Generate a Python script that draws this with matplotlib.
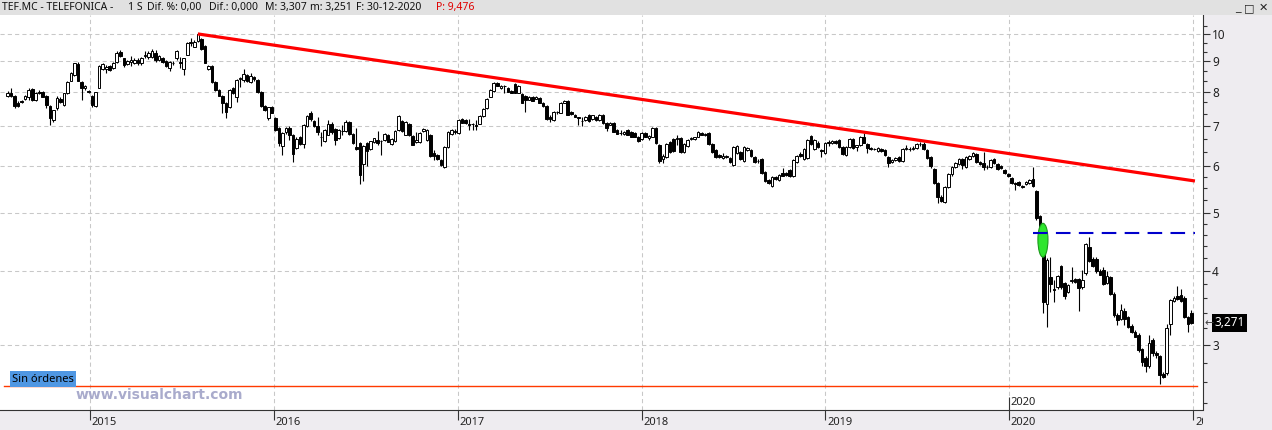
import matplotlib
matplotlib.use('Agg')
import matplotlib.pyplot as plt
import matplotlib.dates as mdates
from matplotlib.patches import Ellipse
from matplotlib.ticker import NullFormatter
import numpy as np
import pandas as pd

plt.rcParams['font.family'] = ['Noto Sans', 'DejaVu Sans']

# velas semanales (open, high, low, close), por año
w2014 = [(7.86,8.03,7.84,7.97),(7.95,8.10,7.82,7.86),(7.86,7.90,7.51,7.57),(7.66,7.70,7.55,7.57),
         (7.70,7.75,7.65,7.68),(7.78,7.88,7.75,7.86),(7.84,8.10,7.75,8.05),(8.08,8.10,7.70,7.75),
         (7.75,8.00,7.72,7.96),(8.00,8.05,7.92,7.97),(8.00,8.02,7.82,7.84),(7.87,7.90,7.51,7.60),
         (7.57,7.60,7.04,7.22),(7.17,7.45,7.12,7.45),(7.51,7.85,7.45,7.81),(7.78,7.82,7.66,7.69),
         (7.60,7.96,7.58,7.96),(7.96,8.32,7.94,8.30),(8.34,8.62,8.32,8.60),(8.53,8.95,8.50,8.93),
         (8.90,8.97,8.32,8.34),(8.30,8.32,7.75,8.11),(8.12,8.20,8.05,8.18),(8.03,8.06,7.95,7.98)]
w2015 = [(7.87,7.90,7.54,7.60),(7.57,8.00,7.55,7.99),(8.12,8.85,8.10,8.83),(8.73,8.93,8.70,8.90),
         (8.73,8.85,8.60,8.80),(8.83,8.86,8.67,8.70),(8.76,8.98,8.73,8.93),(8.97,9.35,8.95,9.30),
         (9.33,9.40,9.15,9.18),(9.10,9.12,8.80,8.86),(8.90,9.03,8.85,9.00),(8.97,9.18,8.83,9.03),
         (8.93,9.10,8.90,9.03),(9.03,9.10,8.88,8.93),(8.93,9.15,8.85,9.10),(9.18,9.35,9.10,9.22),
         (9.15,9.35,9.08,9.30),(9.15,9.45,9.10,9.35),(9.30,9.40,8.98,9.03),(9.05,9.22,9.00,9.18),
         (9.10,9.15,8.93,8.97),(9.00,9.03,8.80,8.83),(8.76,9.00,8.66,8.98),(8.93,9.00,8.86,8.92),
         (9.10,9.40,9.05,9.35),(8.98,9.15,8.76,8.93),(8.73,9.12,8.53,9.10),(9.22,9.70,9.20,9.66),
         (9.64,9.85,9.55,9.68),(9.52,9.75,9.50,9.70),(9.73,10.00,9.70,9.98),(9.80,9.85,9.40,9.44),
         (9.55,9.58,8.93,8.95),(8.73,8.86,8.70,8.84),(8.83,8.86,8.27,8.30),(8.30,8.32,8.03,8.05),
         (8.05,8.08,7.85,7.87),(7.87,7.90,7.36,7.66),(7.66,7.68,7.22,7.40),(7.54,8.07,7.50,8.05),
         (8.11,8.15,7.94,7.97),(7.84,8.40,7.69,8.37),(8.40,8.47,8.15,8.44),(8.37,8.72,8.30,8.56),
         (8.53,8.56,8.30,8.32),(8.30,8.60,8.28,8.50),(8.47,8.50,8.35,8.40),(8.37,8.40,7.97,7.99),
         (8.00,8.02,7.55,7.57),(7.57,7.60,7.42,7.46),(7.22,7.55,7.17,7.54),(7.54,7.56,7.35,7.37)]
w2016 = [(7.23,7.25,6.88,6.90),(6.95,6.97,6.47,6.56),(6.47,6.85,6.26,6.82),(6.83,6.97,6.80,6.95),
         (6.95,6.99,6.63,6.77),(6.77,6.79,6.10,6.28),(6.44,6.70,6.40,6.66),(6.70,6.73,6.50,6.53),
         (6.53,7.06,6.43,7.04),(6.99,7.30,6.98,7.28),(7.37,7.43,7.15,7.19),(7.15,7.17,6.98,6.99),
         (6.99,7.25,6.77,6.85),(6.72,6.85,6.47,6.72),(6.60,6.92,6.58,6.90),(6.77,7.17,6.75,7.07),
         (7.07,7.10,6.80,6.85),(6.92,6.95,6.51,6.63),(6.68,6.92,6.66,6.90),(6.88,7.04,6.77,6.87),
         (6.87,7.17,6.85,7.12),(7.12,7.14,6.77,6.79),(6.79,6.81,6.53,6.55),(6.46,6.95,6.38,6.41),
         (6.55,6.57,5.60,5.80),(6.04,6.50,5.66,6.48),(6.56,6.58,5.99,6.36),(6.41,6.62,6.38,6.60),
         (6.58,6.69,6.55,6.68),(6.63,6.87,6.51,6.56),(6.60,6.63,6.26,6.61),(6.63,6.82,6.60,6.79),
         (6.75,6.78,6.58,6.59),(6.53,6.68,6.50,6.66),(6.60,6.90,6.58,6.87),(6.90,7.30,6.88,7.28),
         (7.15,7.18,6.85,6.87),(6.77,7.14,6.75,7.12),(7.07,7.09,6.73,6.75),(6.73,6.75,6.50,6.51),
         (6.57,6.85,6.55,6.63),(6.58,6.83,6.56,6.82),(6.87,6.95,6.85,6.92),(6.63,6.92,6.60,6.90),
         (6.77,6.80,6.22,6.24),(6.30,6.38,6.14,6.23),(6.26,6.28,6.14,6.16),(6.14,6.16,5.99,6.01),
         (5.97,6.48,5.95,6.46),(6.46,6.87,6.44,6.85),(6.79,6.92,6.76,6.90),(6.88,6.92,6.80,6.84)]
w2017 = [(6.82,7.19,6.80,7.17),(7.19,7.22,7.08,7.09),(7.17,7.19,7.07,7.09),(7.06,7.19,6.90,7.03),
         (7.05,7.09,6.90,7.05),(7.04,7.17,6.90,7.01),(7.07,7.30,7.05,7.28),(7.28,7.50,7.26,7.48),
         (7.51,7.80,7.49,7.78),(7.84,8.07,7.82,8.05),(8.02,8.30,8.00,8.27),(8.27,8.30,8.16,8.18),
         (8.11,8.20,8.08,8.18),(8.18,8.21,7.97,8.17),(8.11,8.14,7.98,8.00),(8.02,8.04,7.95,7.97),
         (8.24,8.27,7.96,7.97),(7.97,8.20,7.95,8.18),(7.93,7.95,7.64,7.66),(7.87,7.90,7.39,7.75),
         (7.75,7.87,7.73,7.84),(7.84,7.87,7.70,7.72),(7.78,7.85,7.76,7.84),(7.81,7.84,7.64,7.66),
         (7.66,7.69,7.55,7.57),(7.57,7.59,7.17,7.20),(7.25,7.31,7.12,7.20),(7.17,7.42,7.15,7.39),
         (7.38,7.42,7.33,7.40),(7.37,7.67,7.35,7.66),(7.66,7.73,7.64,7.72),(7.72,7.75,7.30,7.31),
         (7.39,7.42,7.32,7.34),(7.31,7.33,7.24,7.25),(7.24,7.26,7.04,7.22),(7.14,7.25,7.00,7.14),
         (7.17,7.27,7.15,7.25),(7.31,7.33,7.12,7.14),(7.20,7.32,7.18,7.31),(7.25,7.27,7.15,7.17),
         (7.17,7.33,7.15,7.31),(7.31,7.33,7.07,7.09),(7.09,7.12,6.87,6.96),(7.04,7.10,7.02,7.09),
         (7.09,7.11,6.83,6.85),(6.90,6.92,6.78,6.80),(6.82,6.90,6.75,6.81),(6.79,6.86,6.77,6.85),
         (6.90,6.93,6.76,6.77),(6.85,6.87,6.70,6.72),(6.82,6.84,6.70,6.72),(6.71,6.73,6.59,6.61)]
w2018 = [(6.66,6.84,6.64,6.82),(6.82,6.85,6.70,6.72),(6.69,6.76,6.64,6.74),(6.72,6.97,6.70,6.95),
         (6.95,6.97,6.53,6.55),(6.51,6.53,6.07,6.12),(6.16,6.28,6.07,6.24),(6.21,6.55,6.19,6.53),
         (6.58,6.60,6.31,6.33),(6.66,6.68,6.34,6.36),(6.66,6.77,6.51,6.68),(6.68,6.70,6.31,6.33),
         (6.33,6.56,6.31,6.53),(6.48,6.65,6.46,6.63),(6.66,6.70,6.64,6.68),(6.66,6.72,6.64,6.71),
         (6.72,6.87,6.70,6.85),(6.82,6.85,6.75,6.77),(6.75,6.82,6.73,6.80),(6.82,6.85,6.51,6.53),
         (6.53,6.55,6.31,6.33),(6.38,6.40,6.19,6.21),(6.26,6.28,6.19,6.21),(6.19,6.31,6.17,6.24),
         (6.21,6.26,6.19,6.24),(6.19,6.21,6.07,6.09),(6.03,6.48,6.00,6.46),(6.31,6.51,6.29,6.48),
         (6.33,6.36,6.14,6.16),(6.12,6.48,6.10,6.46),(6.38,6.46,6.36,6.43),(6.38,6.40,6.21,6.23),
         (6.21,6.23,6.07,6.09),(6.12,6.16,6.07,6.12),(6.16,6.18,5.82,5.84),(5.87,5.89,5.64,5.66),
         (5.68,5.70,5.60,5.62),(5.56,5.76,5.54,5.74),(5.74,5.76,5.68,5.70),(5.68,5.82,5.66,5.80),
         (5.84,5.95,5.76,5.78),(5.84,5.87,5.78,5.80),(5.91,5.93,5.74,5.76),(5.76,6.16,5.74,6.14),
         (6.09,6.26,6.07,6.24),(6.28,6.34,6.22,6.24),(6.16,6.43,6.14,6.41),(6.19,6.66,6.17,6.63),
         (6.74,6.77,6.51,6.53),(6.41,6.66,6.38,6.63),(6.56,6.60,6.44,6.46),(6.38,6.40,6.21,6.36),
         (6.31,6.58,6.29,6.56)]
w2019 = [(6.57,6.63,6.48,6.56),(6.56,6.63,6.54,6.61),(6.61,6.63,6.54,6.56),(6.63,6.66,6.44,6.46),
         (6.46,6.48,6.26,6.28),(6.26,6.48,6.24,6.46),(6.46,6.68,6.44,6.66),(6.66,6.68,6.41,6.43),
         (6.46,6.51,6.36,6.51),(6.51,6.74,6.49,6.71),(6.72,6.82,6.55,6.56),(6.53,6.55,6.31,6.43),
         (6.43,6.46,6.39,6.41),(6.41,6.44,6.37,6.41),(6.36,6.45,6.34,6.43),(6.41,6.43,6.34,6.36),
         (6.38,6.40,6.24,6.26),(6.21,6.23,5.97,6.07),(6.09,6.17,6.07,6.14),(6.14,6.21,6.12,6.19),
         (6.21,6.23,6.10,6.12),(6.12,6.43,6.10,6.41),(6.41,6.51,6.39,6.43),(6.41,6.46,6.36,6.41),
         (6.41,6.48,6.38,6.43),(6.43,6.56,6.41,6.53),(6.53,6.58,6.48,6.53),(6.53,6.58,6.39,6.41),
         (6.38,6.40,6.17,6.19),(6.21,6.24,5.96,5.99),(5.93,5.95,5.60,5.62),(5.62,5.64,5.20,5.33),
         (5.33,5.36,5.22,5.24),(5.22,5.56,5.20,5.53),(5.53,5.84,5.51,5.82),(5.82,6.00,5.78,5.98),
         (5.98,6.09,5.96,6.07),(6.05,6.19,6.03,6.16),(6.16,6.19,5.93,6.03),(5.98,6.24,5.96,6.21),
         (6.16,6.26,6.14,6.24),(6.24,6.33,6.22,6.31),(6.28,6.31,6.07,6.09),(6.09,6.12,6.03,6.05),
         (6.07,6.33,5.91,5.98),(5.98,6.02,5.94,5.98),(5.98,6.16,5.96,6.14),(6.16,6.19,6.05,6.07),
         (6.05,6.07,5.91,5.93),(5.99,6.01,5.93,5.96),(5.91,5.93,5.82,5.84),(5.82,5.84,5.74,5.76)]
w2020 = [(5.72,5.74,5.60,5.62),(5.62,5.64,5.47,5.60),(5.64,5.66,5.56,5.58),(5.52,5.58,5.50,5.56),
         (5.60,5.66,5.58,5.64),(5.62,5.70,5.60,5.68),(5.70,5.98,5.54,5.56),(5.45,5.47,4.87,4.90),
         (4.95,4.97,4.55,4.60),(4.36,4.60,3.39,3.54),(3.52,4.20,3.22,4.17),(3.90,4.22,3.69,3.80),
         (3.72,3.86,3.54,3.71),(3.75,3.93,3.73,3.92),(4.07,4.09,3.73,3.75),(3.81,3.83,3.58,3.62),
         (3.69,3.80,3.67,3.78),(3.84,4.05,3.82,3.86),(3.87,3.89,3.82,3.83),(3.87,3.89,3.42,3.74),
         (3.75,4.01,3.73,3.86),(3.96,4.46,3.94,4.43),(4.38,4.56,4.13,4.15),(4.19,4.21,4.06,4.07),
         (4.19,4.21,3.97,3.99),(4.00,4.02,3.93,3.94),(4.01,4.05,3.78,3.80),(3.82,4.00,3.80,3.92),
         (3.90,3.92,3.64,3.66),(3.66,3.68,3.35,3.37),(3.37,3.39,3.24,3.31),(3.32,3.51,3.30,3.43),
         (3.42,3.46,3.24,3.32),(3.34,3.36,3.20,3.22),(3.23,3.25,3.14,3.15),(3.15,3.18,3.09,3.10),
         (3.12,3.14,2.92,2.94),(2.95,2.97,2.77,2.81),(2.85,2.87,2.70,2.77),(2.77,3.12,2.75,3.02),
         (3.06,3.08,2.88,2.91),(2.91,2.93,2.85,2.89),(2.87,2.89,2.58,2.67),(2.68,2.70,2.64,2.65),
         (2.69,3.26,2.67,3.20),(3.26,3.59,3.12,3.57),(3.56,3.62,3.54,3.60),(3.62,3.77,3.57,3.59),
         (3.64,3.72,3.55,3.56),(3.60,3.62,3.33,3.35),(3.34,3.36,3.15,3.25),(3.40,3.43,3.25,3.27)]
last_week = '2020-12-28'

years = [2015, 2016, 2017, 2018, 2019, 2020, 2021]
y_major = [3, 4, 5, 6, 7, 8, 9, 10]
y_minor = [2.4, 2.6, 2.8, 3.2, 3.4, 3.6, 3.8, 4.2, 4.4, 4.6, 4.8, 5.25, 5.5, 5.75,
           6.33, 6.67, 7.33, 7.67, 8.33, 8.67, 9.33, 9.67, 10.33]

trend_dates = ['2015-08-03', '2021-01-04']
trend_vals = [10.0, 5.66]
stop_dates = ['2020-02-17', '2021-01-05']
stop_val = 4.63
floor_dates = ['2014-07-14', '2021-01-08']
floor_val = 2.56
signal_date = '2020-03-08'
signal_val = 4.51
last_val = 3.271
last_txt = '3,271'

header = [('TEF.MC - TELEFONICA -', 2), ('1 S', 128), ('Dif. %: 0,00', 147), ('Dif.: 0,000', 209),
          ('M: 3,307', 265), ('m: 3,251', 310), ('F: 30-12-2020', 356)]
header_p = ('P: 9,476', 436)

# ---------------------------------------------------------------
W, H = 1272, 430
fig = plt.figure(figsize=(W / 100, H / 100), dpi=100)
fig.patch.set_facecolor('#eeecf0')

ohlc = np.array(w2014 + w2015 + w2016 + w2017 + w2018 + w2019 + w2020)
o, h, l, c = ohlc.T
fechas = pd.date_range(end=last_week, periods=len(ohlc), freq='7D')
x = mdates.date2num(fechas)

def d(s):
    return mdates.date2num(pd.Timestamp(s))

ax = fig.add_axes([0, 20 / H, 1202.5 / W, 395 / H])
ax.set_facecolor('white')
ax.set_yscale('log')
ax.set_xlim(d('2014-07-06'), d('2021-01-19'))
ax.set_ylim(2.333, 10.76)

grid_kw = dict(color='#c8c8c8', lw=0.75, ls=(0, (4, 3)), zorder=0)
for v in y_major:
    ax.axhline(v, **grid_kw)
for yr in years:
    ax.axvline(d(f'{yr}-01-01'), **grid_kw)

# velas
up = c >= o
lo = np.minimum(o, c)
hi = np.maximum(o, c)
ax.vlines(x, l, h, color='black', lw=0.8, zorder=2)
ax.bar(x[up], (hi - lo)[up], bottom=lo[up], width=5.2, facecolor='white',
       edgecolor='black', lw=0.7, zorder=3)
ax.bar(x[~up], (hi - lo)[~up], bottom=lo[~up], width=5.2, facecolor='black',
       edgecolor='black', lw=0.7, zorder=3)

# directriz bajista
ax.plot([d(t) for t in trend_dates], trend_vals, color='#ff0000', lw=2.3, zorder=4,
        solid_capstyle='butt')
ax.plot([d(t) for t in floor_dates], [floor_val] * 2, color='#ff3a00', lw=1.0, zorder=4)

ax.add_patch(Ellipse((d(signal_date), signal_val), width=20, height=0.59,
                     facecolor='#2ee62e', edgecolor='#1b9b1b', lw=0.8, zorder=5))
ax.plot([d(t) for t in stop_dates], [stop_val] * 2, color='#0000cc', lw=1.5,
        ls=(0, (7, 4)), zorder=6)

# eje derecho
ax.yaxis.tick_right()
ax.set_yticks(y_major)
ax.set_yticklabels([str(v) for v in y_major])
ax.set_yticks(y_minor, minor=True)
ax.yaxis.set_minor_formatter(NullFormatter())
ax.tick_params(axis='y', which='major', length=5, width=0.8, color='#333333',
               labelsize=8.5, labelcolor='#222222', pad=2)
ax.tick_params(axis='y', which='minor', length=3, width=0.8, color='#333333')
ax.set_xticks([])
for s in ['left', 'top', 'bottom']:
    ax.spines[s].set_visible(False)
ax.spines['right'].set_color('#333333')

# marca 2020 dentro del grafico
xt = ax.get_xaxis_transform()
ax.vlines(d('2020-01-01'), 0, 0.033, transform=xt, color='#333333', lw=0.8)
ax.text(d('2020-01-04'), 0.006, '2020', transform=xt, fontsize=8, color='#222222',
        ha='left', va='bottom')

# precio actual
ax.annotate(last_txt, xy=(1, last_val), xycoords=('axes fraction', 'data'),
            xytext=(12, 0), textcoords='offset pixels', ha='left', va='center',
            color='white', fontsize=8.5, annotation_clip=False,
            bbox=dict(boxstyle='square,pad=0.2', facecolor='black', edgecolor='none'))
ax.annotate('←', xy=(1, last_val), xycoords=('axes fraction', 'data'),
            xytext=(2, 0), textcoords='offset pixels', ha='left', va='center',
            color='#444444', fontsize=8, family='DejaVu Sans', annotation_clip=False)

# eje de fechas
ax2 = fig.add_axes([0, 0, 1202.5 / W, 20 / H])
ax2.set_facecolor('#eeecf0')
ax2.set_xlim(ax.get_xlim())
ax2.set_ylim(0, 1)
ax2.set_xticks([])
ax2.set_yticks([])
for s in ['left', 'right', 'bottom']:
    ax2.spines[s].set_visible(False)
ax2.spines['top'].set_color('#333333')
for yr in years:
    ax2.vlines(d(f'{yr}-01-01'), 0.5, 1.0, color='#333333', lw=0.8)
    ax2.text(d(f'{yr}-01-04'), 0.1, str(yr), fontsize=8, color='#222222',
             ha='left', va='bottom', clip_on=True)

# cabecera
axh = fig.add_axes([0, 1 - 15 / H, 1, 15 / H])
axh.set_facecolor('#e1e1e1')
axh.set_xticks([])
axh.set_yticks([])
for s in axh.spines.values():
    s.set_visible(False)
for txt, xp in header:
    fig.text(xp / W, 1 - 7.5 / H, txt, fontsize=7.5, color='#111111', va='center', ha='left')
fig.text(header_p[1] / W, 1 - 7.5 / H, header_p[0], fontsize=7.5, color='#e00000',
         va='center', ha='left')
for txt, xp in [('_', 1238), ('□', 1249), ('✕', 1263)]:
    fig.text(xp / W, 1 - 8 / H, txt, fontsize=8, color='#222222', va='center', ha='center',
             family='DejaVu Sans')

# textos del grafico
fig.text(12 / W, 1 - 379 / H, 'Sin órdenes', fontsize=8, color='black', va='center', ha='left',
         bbox=dict(boxstyle='square,pad=0.2', facecolor='#4f97e3', edgecolor='none'))
fig.text(76 / W, 1 - 395 / H, 'www.visualchart.com', fontsize=10, fontweight='bold',
         color='#a9abcc', va='center', ha='left', family='DejaVu Sans')

fig.savefig('out.png', dpi=100)
